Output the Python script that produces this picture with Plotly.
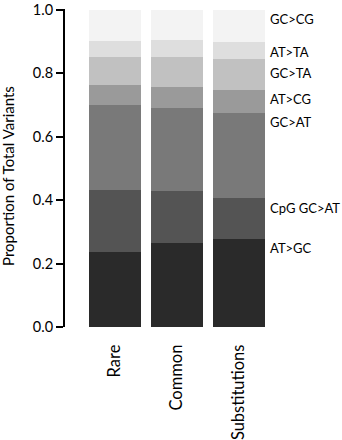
import plotly.graph_objects as go

categories = ["Rare", "Common", "Substitutions"]
series_names = ["AT>GC", "CpG GC>AT", "GC>AT", "AT>CG", "GC>TA", "AT>TA", "GC>CG"]
values = {
    "AT>GC":     [0.236, 0.266, 0.278],
    "CpG GC>AT": [0.197, 0.164, 0.130],
    "GC>AT":     [0.266, 0.259, 0.265],
    "AT>CG":     [0.062, 0.068, 0.075],
    "GC>TA":     [0.089, 0.093, 0.098],
    "AT>TA":     [0.051, 0.055, 0.052],
    "GC>CG":     [0.099, 0.095, 0.102],
}
colors = ["#2a2a2a", "#545454", "#797979", "#9a9a9a", "#c1c1c1", "#dedede", "#f3f3f3"]
label_y = [0.248, 0.376, 0.646, 0.718, 0.799, 0.867, 0.970]
yticks = [0.0, 0.2, 0.4, 0.6, 0.8, 1.0]
y_title = "Proportion of Total Variants"

FONT = "Lato"

fig = go.Figure()
for name, c in zip(series_names, colors):
    fig.add_trace(go.Bar(x=categories, y=values[name], name=name,
                         marker=dict(color=c, line=dict(width=0)),
                         hoverinfo="skip"))

annotations = []
for name, ly in zip(series_names, label_y):
    annotations.append(dict(x=1.0, xref="paper", y=ly, yref="y", text=name.replace(">", "&gt;"),
                            showarrow=False, xanchor="left", yanchor="middle", xshift=-2,
                            font=dict(family=FONT, size=13, color="black")))
annotations.append(dict(x=-0.278, xref="paper", y=0.475, yref="paper", text=y_title,
                        textangle=-90, showarrow=False, xanchor="center", yanchor="middle",
                        font=dict(family=FONT, size=15, color="black")))

fig.update_layout(
    width=342, height=440,
    margin=dict(l=65, r=72, t=9, b=113, autoexpand=False),
    barmode="stack", bargap=0.16,
    showlegend=False,
    plot_bgcolor="white", paper_bgcolor="white",
    font=dict(family=FONT, size=14, color="black"),
    annotations=annotations,
    xaxis=dict(range=[-0.8, 2.5], showline=False, showgrid=False, zeroline=False,
               automargin=False,
               tickangle=-90, ticks="outside", ticklen=10, tickcolor="rgba(0,0,0,0)",
               tickfont=dict(family=FONT, size=16.5, color="black")),
    yaxis=dict(range=[0, 1.002], tickvals=yticks, tickformat=".1f", showgrid=False, zeroline=False,
               automargin=False,
               showline=True, linecolor="black", linewidth=2, ticks="outside", ticklen=7,
               tickwidth=2, tickcolor="black", ticklabeloverflow="allow",
               tickfont=dict(family=FONT, size=14.5, color="black")),
)

fig.write_html("out.html", config={"displayModeBar": False},
               post_script="document.body.style.margin='0';")
